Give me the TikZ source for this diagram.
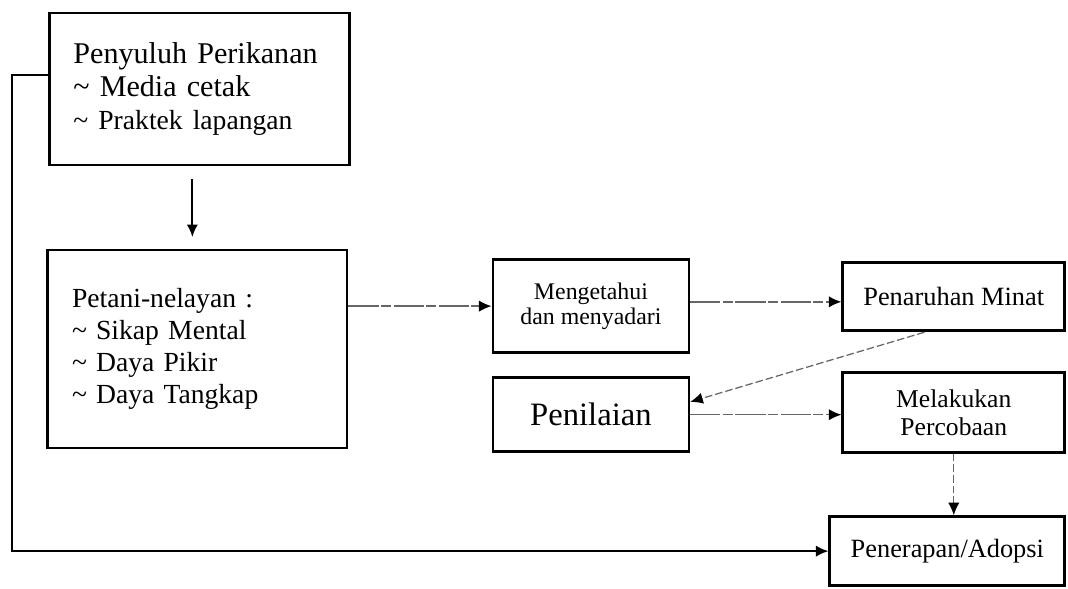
\documentclass[tikz,border=0pt]{standalone}
\usepackage{fontspec}
\setmainfont{Liberation Serif}
\usetikzlibrary{arrows.meta}
\tikzstyle{leftbox} = [rectangle, line width=1.1pt, draw=black, align=left, inner xsep=0.34cm]
\tikzstyle{stagebox} = [rectangle, line width=1.1pt, draw=black, align=center]
\tikzstyle{arrow} = [line width=0.8pt, -{Latex[length=5pt,width=4.5pt]}]
\tikzstyle{dasharrow} = [line width=0.6pt, draw=black!60, dash pattern=on 12pt off 1pt on 4pt off 1pt, -{Latex[length=5pt,width=4.5pt,color=black]}]
\tikzstyle{dotarrow} = [line width=0.5pt, draw=black!60, dash pattern=on 3pt off 1.2pt, -{Latex[length=5pt,width=4.5pt,color=black]}]

\begin{document}
\begin{tikzpicture}
\useasboundingbox (0,0) rectangle (14.952,-8.246);
\node (pen) [leftbox, text width=3.53cm, minimum height=2.128cm, font=\fontsize{12}{13.2}\selectfont] at (2.793,-1.246) {Penyuluh Perikanan\\ \textasciitilde{} Media cetak\\ {\fontsize{11}{13.2}\selectfont\textasciitilde{} Praktek lapangan}\\[-4pt]};

\node (pet) [leftbox, text width=3.51cm, minimum height=2.772cm, font=\fontsize{11}{12.7}\selectfont, below of=pen, yshift=-2.64cm, xshift=-0.03cm] {Petani-nelayan :\\ \textasciitilde{} Sikap Mental\\ \textasciitilde{} Daya Pikir\\ \textasciitilde{} Daya Tangkap};

\node (tahu) [stagebox, minimum width=2.744cm, minimum height=1.302cm, font=\fontsize{9.5}{9.8}\selectfont, right of=pet, xshift=4.51cm, yshift=0.6cm] {Mengetahui\\dan menyadari};

\node (minat) [stagebox, minimum width=3.108cm, minimum height=0.952cm, font=\fontsize{10.5}{12}\selectfont, right of=tahu, xshift=4.08cm, yshift=0.13cm] {Penaruhan Minat};

\node (nilai) [stagebox, minimum width=2.744cm, minimum height=1.036cm, font=\fontsize{13}{15}\selectfont, below of=tahu, yshift=-0.52cm] {Penilaian};

\node (coba) [stagebox, minimum width=3.108cm, minimum height=1.12cm, font=\fontsize{10.2}{11}\selectfont, below of=minat, yshift=-0.62cm] {Melakukan\\Percobaan};

\node (adopsi) [stagebox, minimum width=3.29cm, minimum height=0.966cm, font=\fontsize{10.5}{12}\selectfont, below of=coba, yshift=-0.94cm, xshift=-0.09cm] {Penerapan/Adopsi};

\draw [arrow, shorten <=0.18cm, shorten >=0.2cm] ([xshift=-0.1cm]pen.south) -- ++(0,-1.19cm);
\draw [dasharrow] (pet.east |- tahu.west) -- (tahu.west);
\draw [dasharrow] ([yshift=0.06cm]tahu.east) -- ([yshift=-0.07cm]minat.west);
\draw [dotarrow] ([xshift=-0.41cm]minat.south) -- ([yshift=0.18cm]nilai.east);
\draw [dasharrow] (nilai.east) -- (nilai.east -| coba.west);
\draw [dotarrow] (coba.south) -- (coba.south |- adopsi.north);
\draw [arrow] ([yshift=0.2cm]pen.west) -- ++(-0.5cm,0) |- (adopsi.west);
\end{tikzpicture}
\end{document}
